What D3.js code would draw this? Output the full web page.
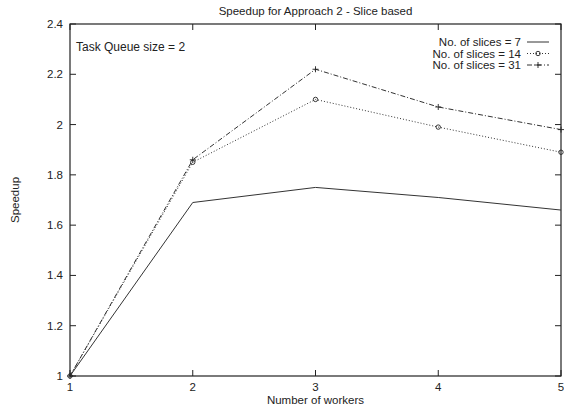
<!DOCTYPE html>
<html>
<head>
<meta charset="utf-8">
<script src="https://cdn.jsdelivr.net/npm/d3@7"></script>
<style>
  body { margin: 0; background: #fff; }
  svg { font-family: "Liberation Sans", Arial, sans-serif; }
</style>
</head>
<body>
<div id="chart"></div>
<script>
const width = 564
const height = 407
const margin = { top: 24, right: 3, bottom: 31, left: 70 }

const workers = [1, 2, 3, 4, 5]
const slices7 = [1, 1.69, 1.75, 1.71, 1.66]
const slices14 = [1, 1.85, 2.10, 1.99, 1.89]
const slices31 = [1, 1.86, 2.22, 2.07, 1.98]
const seriesNames = ["No. of slices = 7", "No. of slices = 14", "No. of slices = 31"]
const yTicks = [1, 1.2, 1.4, 1.6, 1.8, 2, 2.2, 2.4]

const series = [
  { name: seriesNames[0], values: slices7, dash: null, marker: null },
  { name: seriesNames[1], values: slices14, dash: "1,2", marker: "circle" },
  { name: seriesNames[2], values: slices31, dash: "5,2,1,2", marker: "plus" },
]

const x = d3.scaleLinear([1, 5], [margin.left, width - margin.right])
const y = d3.scaleLinear([1, 2.4], [height - margin.bottom, margin.top])

const svg = d3.select("#chart").append("svg")
  .attr("width", width)
  .attr("height", height)

const ink = "#222"

// frame with inward ticks on all sides (gnuplot style)
svg.append("rect")
  .attr("x", x(1)).attr("y", y(2.4))
  .attr("width", x(5) - x(1)).attr("height", y(1) - y(2.4))
  .attr("fill", "none").attr("stroke", ink).attr("stroke-width", 1.2)

const tickLen = 6
const xAxis = svg.append("g").attr("font-size", 11.5)
xAxis.selectAll("line.b").data(workers).enter().append("line")
  .attr("x1", d => x(d)).attr("x2", d => x(d))
  .attr("y1", y(1)).attr("y2", y(1) - tickLen)
  .attr("stroke", ink)
xAxis.selectAll("line.t").data(workers).enter().append("line")
  .attr("x1", d => x(d)).attr("x2", d => x(d))
  .attr("y1", y(2.4)).attr("y2", y(2.4) + tickLen)
  .attr("stroke", ink)
xAxis.selectAll("text").data(workers).enter().append("text")
  .attr("x", d => x(d)).attr("y", y(1) + 15)
  .attr("text-anchor", "middle")
  .attr("fill", ink)
  .text(d => d)

const yAxis = svg.append("g").attr("font-size", 11.5)
yAxis.selectAll("line.l").data(yTicks).enter().append("line")
  .attr("x1", x(1)).attr("x2", x(1) + tickLen)
  .attr("y1", d => y(d)).attr("y2", d => y(d))
  .attr("stroke", ink)
yAxis.selectAll("line.r").data(yTicks).enter().append("line")
  .attr("x1", x(5)).attr("x2", x(5) - tickLen)
  .attr("y1", d => y(d)).attr("y2", d => y(d))
  .attr("stroke", ink)
yAxis.selectAll("text").data(yTicks).enter().append("text")
  .attr("x", x(1) - 7).attr("y", d => y(d) + 4)
  .attr("text-anchor", "end")
  .attr("fill", ink)
  .text(d => d)

// labels
svg.append("text")
  .attr("x", (x(1) + x(5)) / 2).attr("y", 15)
  .attr("text-anchor", "middle").attr("font-size", 11.5).attr("fill", ink)
  .text("Speedup for Approach 2 - Slice based")
svg.append("text")
  .attr("x", (x(1) + x(5)) / 2).attr("y", height - 3)
  .attr("text-anchor", "middle").attr("font-size", 11.5).attr("fill", ink)
  .text("Number of workers")
svg.append("text")
  .attr("transform", `translate(19,${(y(1) + y(2.4)) / 2}) rotate(-90)`)
  .attr("text-anchor", "middle").attr("font-size", 11.5).attr("fill", ink)
  .text("Speedup")
svg.append("text")
  .attr("x", x(1) + 6).attr("y", 51)
  .attr("font-size", 12).attr("fill", ink)
  .text("Task Queue size = 2")

function drawMarker(g, type, cx, cy) {
  if (type === "circle") {
    g.append("circle").attr("cx", cx).attr("cy", cy).attr("r", 2.2)
      .attr("fill", "none").attr("stroke", ink).attr("stroke-width", 0.9)
  } else if (type === "plus") {
    g.append("path")
      .attr("d", `M${cx - 3},${cy}H${cx + 3}M${cx},${cy - 3}V${cy + 3}`)
      .attr("stroke", ink).attr("stroke-width", 0.9)
  }
}

const line = d3.line()
  .x((d, i) => x(workers[i]))
  .y(d => y(d))

series.forEach(s => {
  const g = svg.append("g")
  g.append("path")
    .attr("d", line(s.values))
    .attr("fill", "none")
    .attr("stroke", "#333")
    .attr("stroke-width", 1)
    .attr("stroke-dasharray", s.dash)
  s.values.forEach((v, i) => drawMarker(g, s.marker, x(workers[i]), y(v)))
})

// legend
const legend = svg.append("g").attr("font-size", 11.5)
series.forEach((s, i) => {
  const ly = 42 + i * 11.5
  legend.append("text")
    .attr("x", 521).attr("y", ly + 4.2)
    .attr("text-anchor", "end").attr("fill", ink)
    .text(s.name)
  legend.append("line")
    .attr("x1", 527).attr("x2", 549)
    .attr("y1", ly).attr("y2", ly)
    .attr("stroke", "#333")
    .attr("stroke-dasharray", s.dash)
  drawMarker(legend, s.marker, 538, ly)
})
</script>
</body>
</html>
